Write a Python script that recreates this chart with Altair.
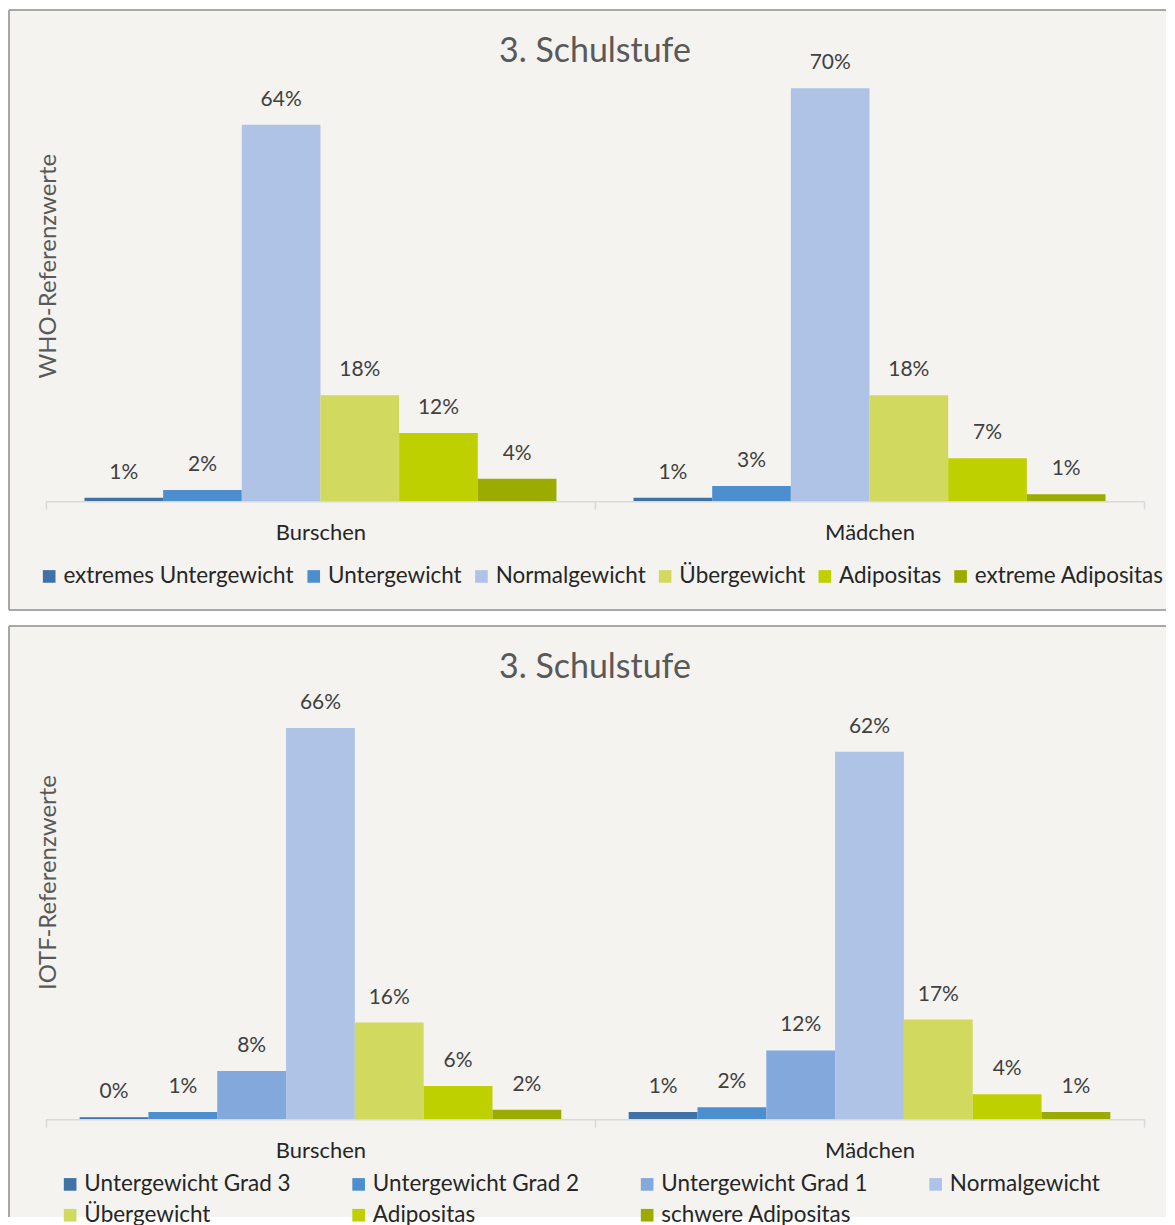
import altair as alt
import pandas as pd

groups = ["Burschen", "Mädchen"]

who_cats = ["extremes Untergewicht", "Untergewicht", "Normalgewicht",
            "Übergewicht", "Adipositas", "extreme Adipositas"]
who_burschen = [0.6, 1.9, 63.9, 18.0, 11.6, 3.8]
who_maedchen = [0.6, 2.6, 70.1, 18.0, 7.3, 1.2]
who_colors = ["#3F72A6", "#4D8ECE", "#AEC3E6", "#D1DA5F", "#BFD000", "#9BAB00"]

iotf_cats = ["Untergewicht Grad 3", "Untergewicht Grad 2", "Untergewicht Grad 1",
             "Normalgewicht", "Übergewicht", "Adipositas", "schwere Adipositas"]
iotf_burschen = [0.3, 1.2, 8.1, 66.0, 16.3, 5.6, 1.6]
iotf_maedchen = [1.2, 2.0, 11.6, 62.0, 16.8, 4.2, 1.2]
iotf_colors = ["#3F72A6", "#4D8ECE", "#82A8DC", "#AEC3E6", "#D1DA5F", "#BFD000", "#9BAB00"]

title_text = "3. Schulstufe"
who_ytitle = "WHO-Referenzwerte"
iotf_ytitle = "IOTF-Referenzwerte"

FONT = "Lato"
BG = "#F4F3EF"
BORDER = "#8C8C8C"
W = 1100


def panel(cats, vb, vm, colors, ytitle, height, top, bottom, bottom_border,
          legend_x, legend_y, columns, col_pad, grid_align):
    rows = []
    for g, vals in zip(groups, [vb, vm]):
        for c, v in zip(cats, vals):
            rows.append({"group": g, "cat": c, "value": v})
    df = pd.DataFrame(rows)
    one = pd.DataFrame({"a": [0]})
    left, right = -37, 1122

    bg = alt.Chart(one).mark_rect(fill=BG, strokeWidth=0).encode(
        x=alt.value(left), x2=alt.value(right), y=alt.value(top), y2=alt.value(bottom))
    lines = [
        alt.Chart(one).mark_rule(color=BORDER, strokeWidth=1.5).encode(
            x=alt.value(left), y=alt.value(top), y2=alt.value(bottom)),
        alt.Chart(one).mark_rule(color=BORDER, strokeWidth=1.5).encode(
            x=alt.value(left), x2=alt.value(right), y=alt.value(top)),
    ]
    if bottom_border:
        lines.append(alt.Chart(one).mark_rule(color=BORDER, strokeWidth=1.5).encode(
            x=alt.value(left), x2=alt.value(right), y=alt.value(bottom)))

    title = alt.Chart(one).mark_text(
        font=FONT, fontSize=34, color="#595959", baseline="middle", align="center"
    ).encode(x=alt.value(W / 2), y=alt.value(top + 42), text=alt.value(title_text))

    x = alt.X("group:N", sort=groups, title=None,
              scale=alt.Scale(paddingInner=0, paddingOuter=0),
              axis=alt.Axis(labelAngle=0, labelFont=FONT, labelFontSize=22,
                            labelColor="#262626", domainColor="#D9D9D9",
                            domainWidth=1.5, tickColor="#D9D9D9", tickWidth=1.5,
                            tickSize=8, tickBand="extent", labelPadding=13,
                            grid=False, zindex=1))
    xo = alt.XOffset("cat:N", sort=cats,
                     scale=alt.Scale(paddingInner=0, paddingOuter=0.49))
    y = alt.Y("value:Q", scale=alt.Scale(domain=[0, 80], nice=False),
              axis=alt.Axis(labels=False, ticks=False, domain=False, grid=False,
                            title=ytitle, titleFont=FONT, titleFontSize=24,
                            titleFontWeight="normal", titleColor="#595959",
                            titleX=3, titleBaseline="middle", zindex=1))
    leg_kw = dict(orient="none", legendX=legend_x, legendY=legend_y,
                  direction="horizontal", title=None, symbolType="square",
                  symbolSize=160, symbolStrokeWidth=0, symbolOffset=4,
                  labelFont=FONT, labelFontSize=22.5, labelColor="#262626",
                  labelOffset=3, columnPadding=col_pad, rowPadding=8,
                  gridAlign=grid_align, labelLimit=400, zindex=1)
    if columns:
        leg_kw["columns"] = columns
    color = alt.Color("cat:N", sort=cats,
                      scale=alt.Scale(domain=cats, range=colors),
                      legend=alt.Legend(**leg_kw))
    bars = alt.Chart(df).mark_bar(strokeWidth=0).encode(x=x, xOffset=xo, y=y, color=color)
    text = alt.Chart(df).transform_calculate(
        label="format(datum.value / 100, '.0%')"
    ).mark_text(font=FONT, fontSize=21, color="#404040", baseline="alphabetic", dy=-19).encode(
        x=x, xOffset=xo, y=y, text="label:N")

    return alt.layer(bg, *lines, title, bars, text).properties(width=W, height=height)


top_chart = panel(who_cats, who_burschen, who_maedchen, who_colors, who_ytitle,
                  472, -20, 581, True, -12, 536, None, 4, "each")
bottom_chart = panel(iotf_cats, iotf_burschen, iotf_maedchen, iotf_colors, iotf_ytitle,
                     475, -19, 573, False, 9, 529, 4, 52, "all")

chart = alt.vconcat(top_chart, bottom_chart, spacing=14).resolve_scale(
    color="independent", x="independent", y="independent", xOffset="independent"
).properties(padding=0, background="#FFFFFF").configure_view(stroke=None)

chart.save("out.html", embed_options={"renderer": "svg", "actions": False})
